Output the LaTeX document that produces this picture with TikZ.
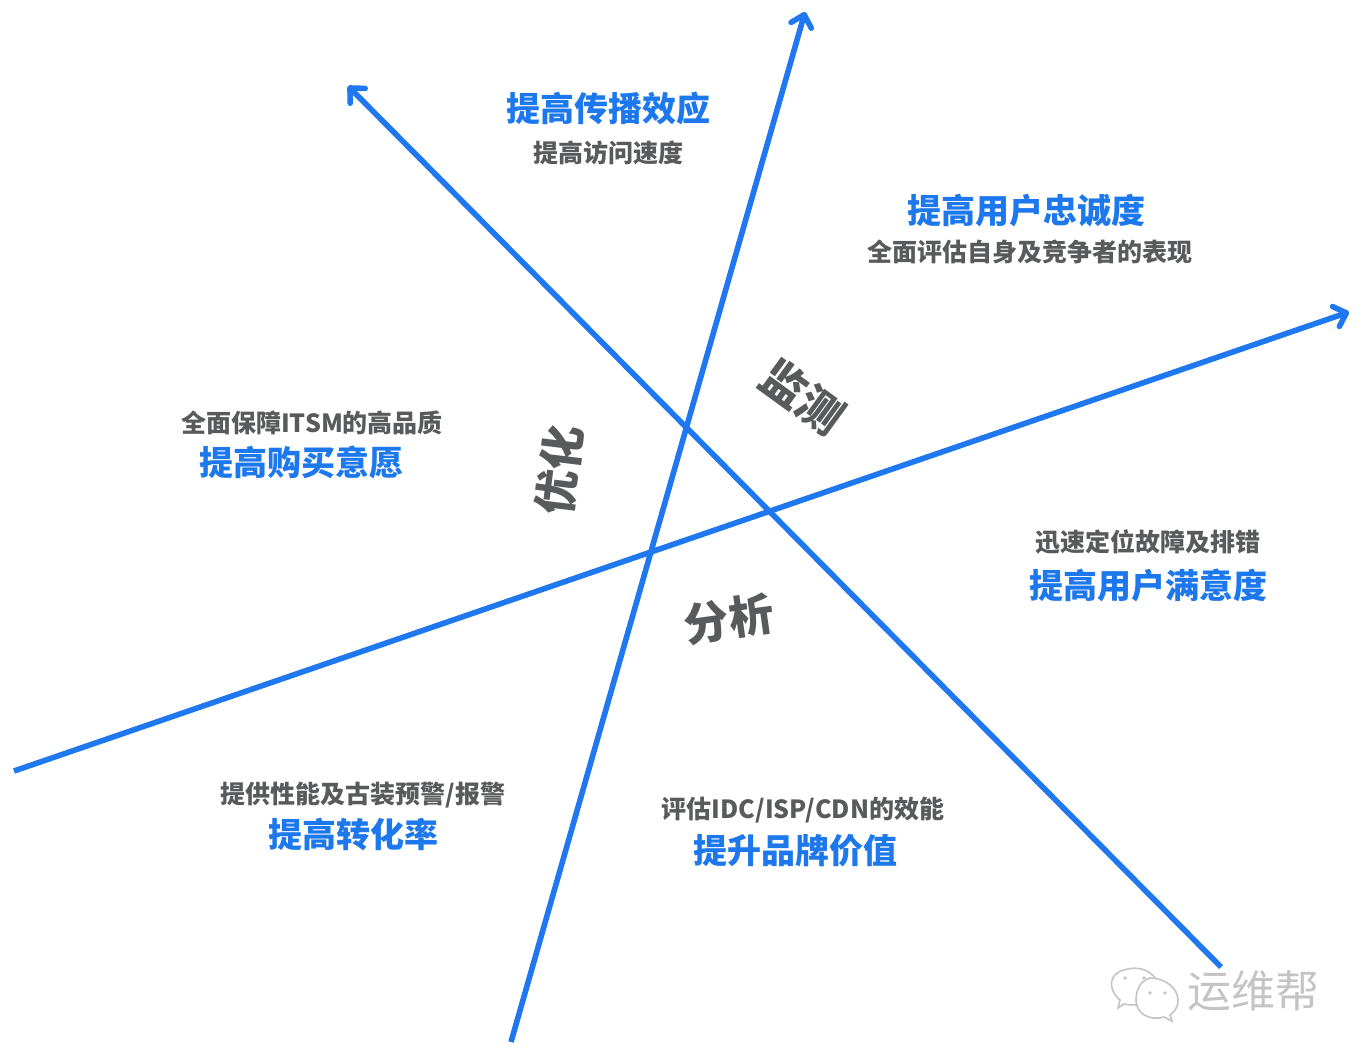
\documentclass[tikz,border=0pt]{standalone}
\usepackage{fontspec}
\setmainfont{Liberation Sans}
\newfontfamily\cjk{Noto Sans CJK SC}
\usetikzlibrary{arrows.meta}
\definecolor{axisblue}{HTML}{1F78F0}
\definecolor{headblue}{HTML}{1C78EC}
\definecolor{subgray}{HTML}{595A5C}
\definecolor{logogray}{HTML}{C4C4C4}
\tikzset{
  axis/.style={draw=axisblue,line width=5.6pt,-{Straight Barb[length=11pt,width=21pt,line width=5.6pt,round]}},
  head/.style={text=headblue,font=\cjk\bfseries\fontsize{34}{36}\selectfont,inner sep=0pt},
  sub/.style={text=subgray,font=\cjk\bfseries\fontsize{25}{27}\selectfont,inner sep=0pt},
  phase/.style={text=subgray,font=\cjk\bfseries\fontsize{45}{47}\selectfont,inner sep=0pt},
  logotext/.style={text=logogray,font=\cjk\fontsize{44}{46}\selectfont,inner sep=0pt},
  bubble/.style={draw=logogray,line width=1.6pt,fill=white},
}
\begin{document}
\begin{tikzpicture}[x=1pt,y=-1pt]
\useasboundingbox (0,0) rectangle (1366,1061);
\coordinate (a1) at (14,771);
\coordinate (a2) at (1349,312);
\coordinate (b1) at (511,1042);
\coordinate (b2) at (805,12);
\coordinate (c1) at (1221,967);
\coordinate (c2) at (348,86);
\draw[axis] (a1) -- (a2);
\draw[axis] (b1) -- (b2);
\draw[axis] (c1) -- (c2);

\node[head] (h1) at (608,109) {提高传播效应};
\node[sub]  (s1) at (608,153) {提高访问速度};
\node[head] (h2) at (1026,211) {提高用户忠诚度};
\node[sub]  (s2) at (1030,252) {全面评估自身及竞争者的表现};
\node[sub]  (s3) at (312,423) {全面保障ITSM的高品质};
\node[head] (h3) at (301,463) {提高购买意愿};
\node[sub]  (s4) at (1148,542) {迅速定位故障及排错};
\node[head] (h4) at (1148,585) {提高用户满意度};
\node[sub]  (s5) at (363,795) {提供性能及古装预警/报警};
\node[head] (h5) at (353,835) {提高转化率};
\node[sub]  (s6) at (803,810) {评估IDC/ISP/CDN的效能};
\node[head] (h6) at (795,851) {提升品牌价值};

\node[phase,rotate=-36] (p1) at (803,397) {监测};
\node[phase,rotate=83] (p2) at (559,470) {优化};
\node[phase,rotate=8] (p3) at (729,619) {分析};

\node[logotext] (m1) at (1253,991) {运维帮};
\draw[bubble] (1120,1000) .. controls (1108,990) and (1108,974) .. (1124,970)
  .. controls (1136,966) and (1150,968) .. (1158,982)
  -- (1142,1005) .. controls (1136,1005) and (1128,1005) .. (1124,1004) -- (1118,1008) -- cycle;
\draw[bubble] (1150,978) .. controls (1165,978) and (1178,988) .. (1178,1000)
  .. controls (1178,1008) and (1174,1012) .. (1170,1015) -- (1172,1021) -- (1164,1017)
  .. controls (1150,1021) and (1136,1014) .. (1136,1000)
  .. controls (1136,988) and (1142,980) .. (1150,978) -- cycle;
\fill[logogray] (1125,978) circle (1.8pt) (1144,978) circle (1.8pt) (1150,993) circle (1.8pt) (1165,993) circle (1.8pt);
\end{tikzpicture}
\end{document}
